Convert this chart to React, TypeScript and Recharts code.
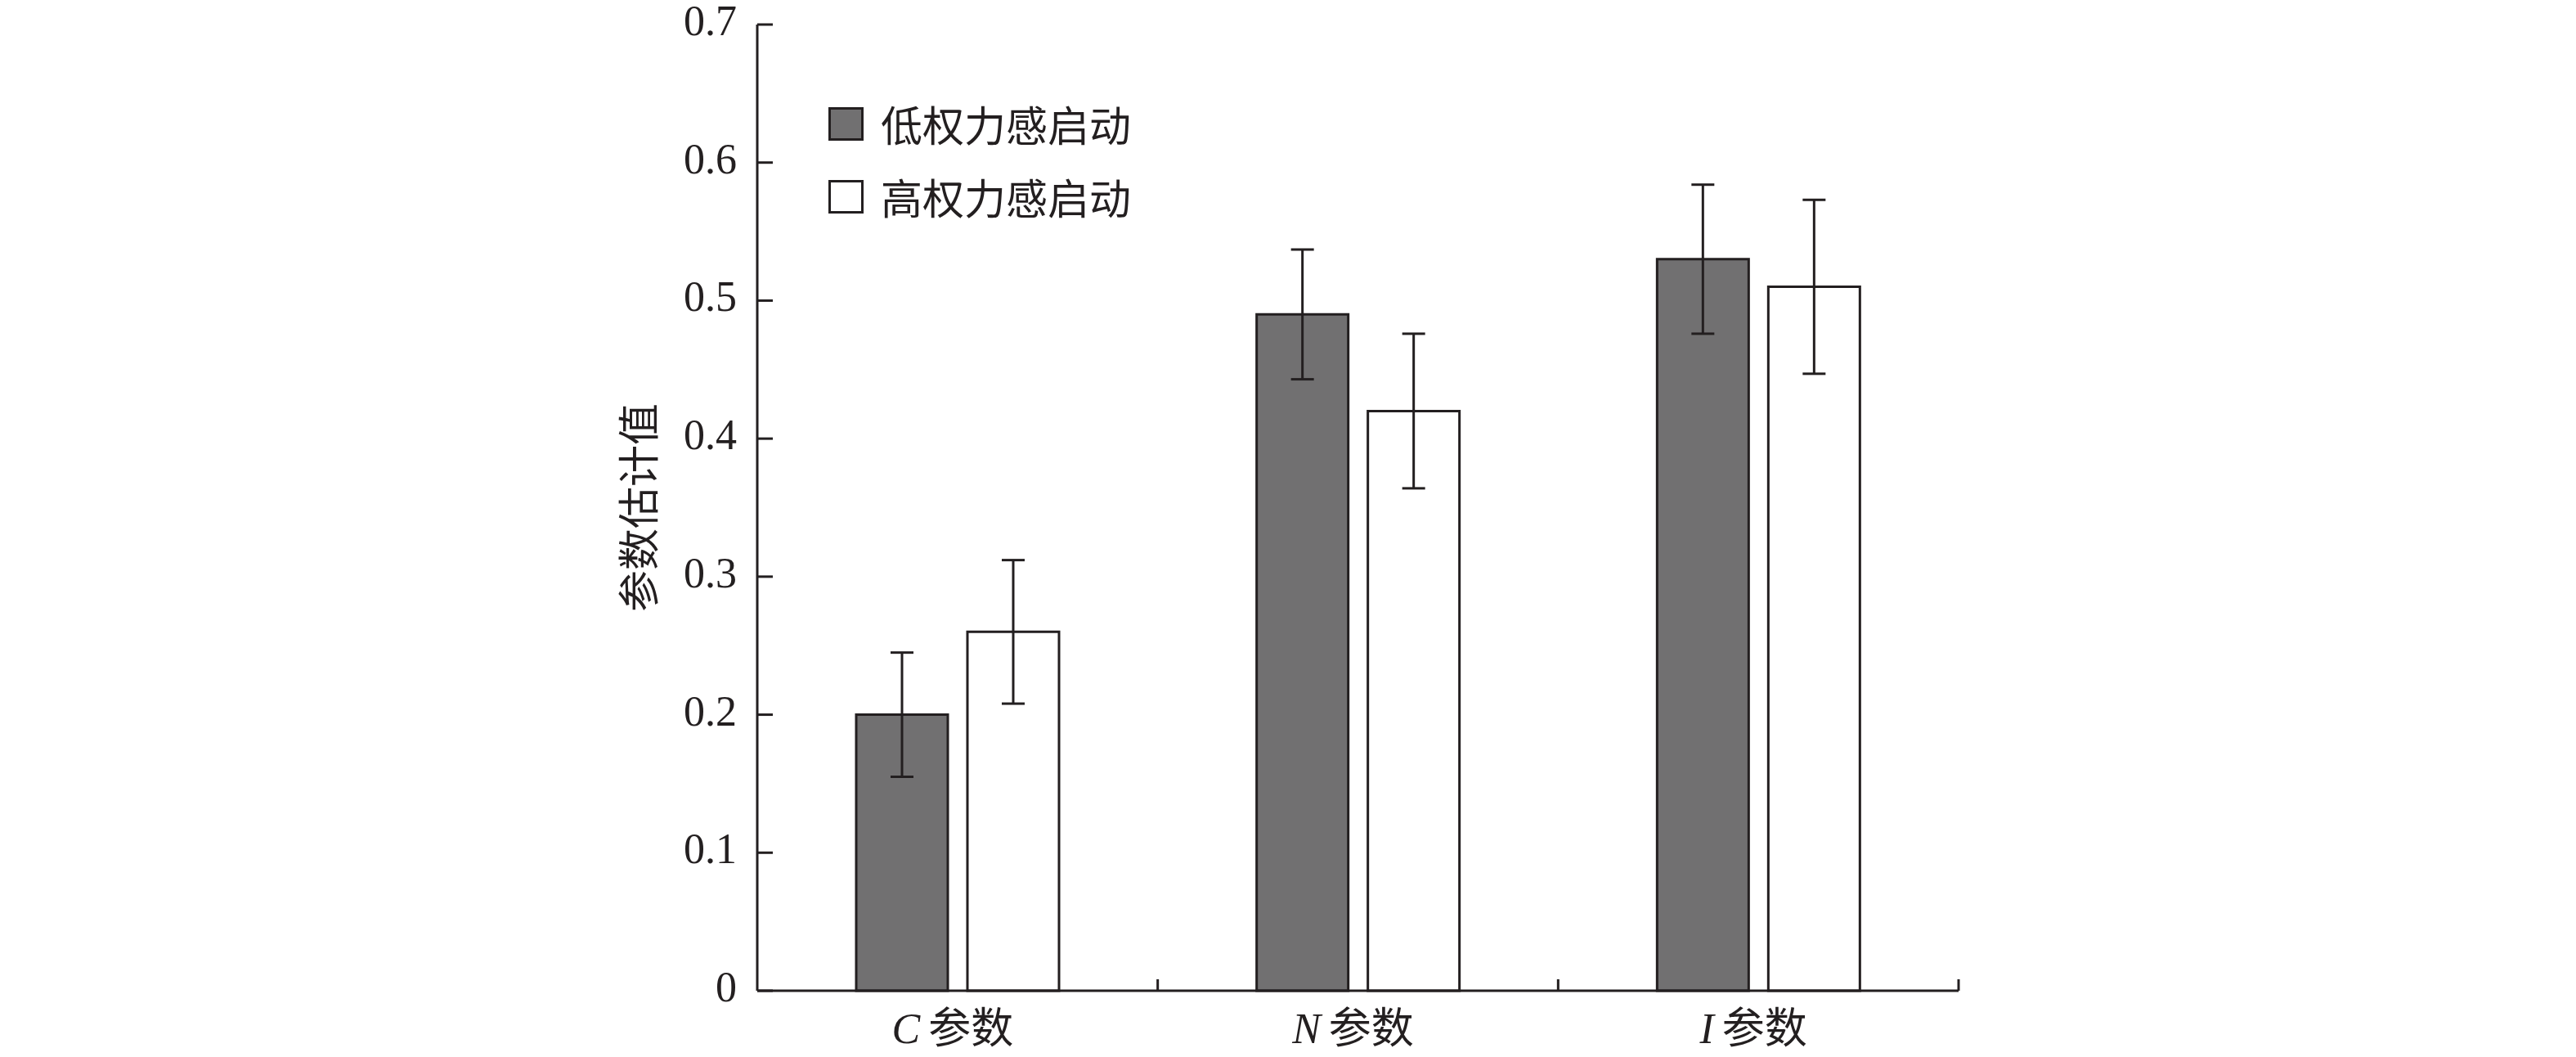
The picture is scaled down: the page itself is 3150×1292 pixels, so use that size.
import React from 'react';
import { BarChart, Bar, XAxis, YAxis, ErrorBar, Legend } from 'recharts';

const categories = ['C', 'N', 'I'];
const categorySuffix = '参数';
const lowPower = [0.2, 0.49, 0.53];
const highPower = [0.26, 0.42, 0.51];
const lowErr = [0.045, 0.047, 0.054];
const highErr = [0.052, 0.056, 0.063];
const yTicks = [0, 0.1, 0.2, 0.3, 0.4, 0.5, 0.6, 0.7];
const seriesNames = ['低权力感启动', '高权力感启动'];
const yLabel = '参数估计值';

const INK = '#231f20';
const DARK = '#717071';
const FONT = "'Liberation Serif', 'Noto Sans CJK SC', serif";
const CJK = "'Noto Sans CJK SC', 'Liberation Serif', sans-serif";

const data = categories.map((c, i) => ({
  name: c,
  low: lowPower[i],
  high: highPower[i],
  lowErr: lowErr[i],
  highErr: highErr[i],
}));

const YTick = (props: any) => {
  const { x, y, payload } = props;
  const v = payload.value;
  const label = v === 0 ? '0' : v.toFixed(1);
  return (
    <g>
      <line x1={x} y1={y} x2={x + 19} y2={y} stroke={INK} strokeWidth={3} />
      <text x={x - 25} y={y} dy={13} textAnchor="end" fontFamily={FONT} fontSize={52} fill={INK}>
        {label}
      </text>
    </g>
  );
};

const XTick = (props: any) => {
  const { x, y, payload, width, visibleTicksCount } = props;
  const half = payload && payload.offset ? payload.offset : width / visibleTicksCount / 2;
  const bx = x + half;
  return (
    <g>
      <line x1={bx} y1={y} x2={bx} y2={y - 14} stroke={INK} strokeWidth={3} />
      <text x={x - 6} y={y} dy={64} textAnchor="middle" fontSize={52} fill={INK}>
        <tspan fontFamily={FONT} fontStyle="italic">{payload.value}</tspan>
        <tspan fontFamily={CJK} dx={10}>{categorySuffix}</tspan>
      </text>
    </g>
  );
};

const LegendContent = (props: any) => {
  const { payload } = props;
  return (
    <div style={{ display: 'flex', flexDirection: 'column' }}>
      {(payload || []).map((entry: any, i: number) => (
        <div key={i} style={{ display: 'flex', alignItems: 'center', height: 89 }}>
          <div
            style={{
              width: 43,
              height: 41,
              boxSizing: 'border-box',
              border: `3px solid ${INK}`,
              background: i === 0 ? DARK : '#ffffff',
              marginRight: 21,
            }}
          />
          <span style={{ fontFamily: CJK, fontSize: 51, color: INK, lineHeight: '51px', whiteSpace: 'nowrap' }}>
            {entry.value}
          </span>
        </div>
      ))}
    </div>
  );
};

const YLabelContent = (props: any) => {
  const { viewBox } = props;
  const cx = 770;
  const cy = viewBox.y + viewBox.height / 2;
  return (
    <text
      x={cx}
      y={cy}
      transform={`rotate(-90, ${cx}, ${cy})`}
      textAnchor="middle"
      dominantBaseline="central"
      fontFamily={CJK}
      fontSize={51}
      fill={INK}
    >
      {yLabel}
    </text>
  );
};

export default function App() {
  return (
    <BarChart
      width={3134}
      height={1284}
      data={data}
      margin={{ top: 22, right: 747, bottom: 0, left: 0 }}
      barSize={112}
      barGap={24}
    >
      <XAxis
        dataKey="name"
        height={81}
        axisLine={{ stroke: INK, strokeWidth: 3 }}
        tickLine={false}
        tickSize={0}
        tickMargin={0}
        tick={<XTick />}
        interval={0}
      />
      <YAxis
        width={918}
        domain={[0, 0.7]}
        ticks={yTicks}
        interval={0}
        axisLine={{ stroke: INK, strokeWidth: 3 }}
        tickLine={false}
        tickSize={0}
        tickMargin={0}
        tick={<YTick />}
        label={{ content: <YLabelContent /> }}
      />
      <Legend
        layout="vertical"
        align="center"
        verticalAlign="middle"
        content={<LegendContent />}
        wrapperStyle={{ left: 1005, top: 99, width: 'auto', height: 'auto' }}
      />
      <Bar dataKey="low" name={seriesNames[0]} fill={DARK} stroke={INK} strokeWidth={3} isAnimationActive={false}>
        <ErrorBar dataKey="lowErr" width={14} stroke={INK} strokeWidth={3} isAnimationActive={false} />
      </Bar>
      <Bar dataKey="high" name={seriesNames[1]} fill="#ffffff" stroke={INK} strokeWidth={3} isAnimationActive={false}>
        <ErrorBar dataKey="highErr" width={14} stroke={INK} strokeWidth={3} isAnimationActive={false} />
      </Bar>
    </BarChart>
  );
}
